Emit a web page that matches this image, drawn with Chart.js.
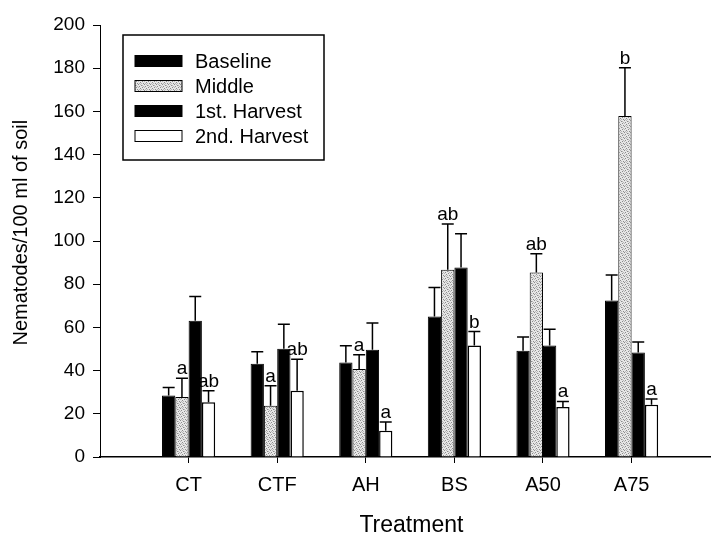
<!DOCTYPE html>
<html><head><meta charset="utf-8">
<script src="https://cdn.jsdelivr.net/npm/chart.js@4"></script>
<style>html,body{margin:0;padding:0;background:#fff}#wrap{width:711px;height:534px;position:relative}</style>
</head><body><div id="wrap"><canvas id="c"></canvas></div>
<script>
const categories = ['CT', 'CTF', 'AH', 'BS', 'A50', 'A75'];
const seriesNames = ['Baseline', 'Middle', '1st. Harvest', '2nd. Harvest'];
const baseline = [28.5, 43.2, 43.8, 65.0, 49.2, 72.5];
const middle = [27.8, 23.7, 40.7, 86.7, 85.4, 157.9];
const harvest1 = [63.1, 50.1, 49.6, 87.7, 51.6, 48.4];
const harvest2 = [25.3, 30.7, 12.2, 51.6, 23.1, 24.2];
const baselineErr = [3.7, 5.5, 7.7, 13.5, 6.3, 11.8];
const middleErr = [8.7, 9.3, 6.6, 21.2, 8.7, 22.3];
const harvest1Err = [11.2, 11.4, 12.4, 15.6, 7.6, 4.8];
const harvest2Err = [5.4, 14.6, 4.0, 6.5, 2.6, 2.6];
const middleLetters = ['a', 'a', 'a', 'ab', 'ab', 'b'];
const harvest2Letters = ['ab', 'ab', 'a', 'b', 'a', 'a'];
const yTickValues = [0, 20, 40, 60, 80, 100, 120, 140, 160, 180, 200];
const yTitle = 'Nematodes/100 ml of soil';
const xTitle = 'Treatment';

const FONT = "'Liberation Sans', Arial, sans-serif";
const canvas = document.getElementById('c');
const ctx = canvas.getContext('2d');

// stippled fill texture for the "Middle" series
function stipple() {
  const c = document.createElement('canvas');
  c.width = 6; c.height = 6;
  const g = c.getContext('2d');
  g.fillStyle = '#e6e6e6'; g.fillRect(0, 0, 6, 6);
  const dark = [[0,0],[3,1],[1,2],[4,3],[2,4],[5,5]];
  const mid = [[2,0],[5,2],[0,3],[3,5],[1,5],[4,1]];
  g.fillStyle = '#8c8c8c'; dark.forEach(p => g.fillRect(p[0], p[1], 1, 1));
  g.fillStyle = '#b8b8b8'; mid.forEach(p => g.fillRect(p[0], p[1], 1, 1));
  return ctx.createPattern(c, 'repeat');
}
const pat = stipple();

const toXY = arr => arr.map((v, i) => ({x: i + 1, y: v}));

const datasets = [
  {label: seriesNames[0], data: toXY(baseline), backgroundColor: '#000', borderColor: '#000', borderWidth: 1, err: baselineErr, letters: null},
  {label: seriesNames[1], data: toXY(middle), backgroundColor: pat, borderColor: '#000', borderWidth: 1, err: middleErr, letters: middleLetters},
  {label: seriesNames[2], data: toXY(harvest1), backgroundColor: '#000', borderColor: '#000', borderWidth: 1, err: harvest1Err, letters: null},
  {label: seriesNames[3], data: toXY(harvest2), backgroundColor: '#fff', borderColor: '#000', borderWidth: 1.5, err: harvest2Err, letters: harvest2Letters}
];

const decor = {
  id: 'decor',
  afterDatasetsDraw(chart) {
    const c = chart.ctx;
    const ys = chart.scales.y;
    c.save();
    chart.data.datasets.forEach((ds, di) => {
      const meta = chart.getDatasetMeta(di);
      meta.data.forEach((bar, i) => {
        const v = ds.data[i].y;
        const top = ys.getPixelForValue(v + ds.err[i]);
        c.strokeStyle = '#000';
        c.lineWidth = 1.5;
        c.beginPath();
        c.moveTo(bar.x, bar.y);
        c.lineTo(bar.x, top);
        c.moveTo(bar.x - 6, top);
        c.lineTo(bar.x + 6, top);
        c.stroke();
        if (ds.letters) {
          c.fillStyle = '#000';
          c.font = '19px ' + FONT;
          c.textAlign = 'center';
          c.textBaseline = 'alphabetic';
          c.fillText(ds.letters[i], bar.x, top - 4);
        }
      });
    });
    // legend
    const lx = 123, ly = 35, lw = 201, lh = 125;
    c.lineWidth = 1.5;
    c.strokeStyle = '#000';
    c.strokeRect(lx, ly, lw, lh);
    c.font = '20px ' + FONT;
    c.textAlign = 'left';
    c.textBaseline = 'middle';
    chart.data.datasets.forEach((ds, di) => {
      const cy = 61 + di * 25;
      c.fillStyle = ds.backgroundColor;
      c.fillRect(135, cy - 5.5, 47, 11);
      c.lineWidth = 1;
      c.strokeRect(135, cy - 5.5, 47, 11);
      c.fillStyle = '#000';
      c.fillText(ds.label, 195, cy + 1);
    });
    c.restore();
  }
};

new Chart(canvas, {
  type: 'bar',
  data: {datasets},
  options: {
    responsive: true,
    maintainAspectRatio: false,
    animation: false,
    layout: {padding: {top: 25, right: 1, left: 0, bottom: 0}},
    datasets: {bar: {categoryPercentage: 0.6, barPercentage: 1.0, grouped: true}},
    plugins: {legend: {display: false}, tooltip: {enabled: false}},
    scales: {
      x: {
        type: 'linear', min: 0, max: 6.885, offset: false,
        afterBuildTicks: s => { s.ticks = categories.map((c, i) => ({value: i + 1})); },
        afterFit: s => { s.height = 77; },
        grid: {offset: false, drawOnChartArea: false, drawTicks: true, tickLength: 6, color: '#000', lineWidth: 1},
        border: {display: true, color: '#000', width: 1.5},
        ticks: {autoSkip: false, maxRotation: 0, color: '#000', padding: 10, font: {family: FONT, size: 20},
          callback: v => categories[v - 1] ?? ''},
        title: {display: true, text: '  ' + xTitle, color: '#000', font: {family: FONT, size: 23, lineHeight: 1}, padding: {top: 0, bottom: -3}}
      },
      y: {
        min: 0, max: 200,
        afterBuildTicks: s => { s.ticks = yTickValues.map(v => ({value: v})); },
        afterFit: s => { s.width = 100; },
        grid: {drawOnChartArea: false, drawTicks: true, tickLength: 7, color: '#000', lineWidth: 1},
        border: {display: true, color: '#000', width: 1},
        ticks: {color: '#000', padding: 8, font: {family: FONT, size: 19}},
        title: {display: true, text: '   ' + yTitle, color: '#000', font: {family: FONT, size: 20, lineHeight: 1.2}, padding: {top: 9, bottom: 0}}
      }
    }
  },
  plugins: [decor]
});
</script></body></html>
